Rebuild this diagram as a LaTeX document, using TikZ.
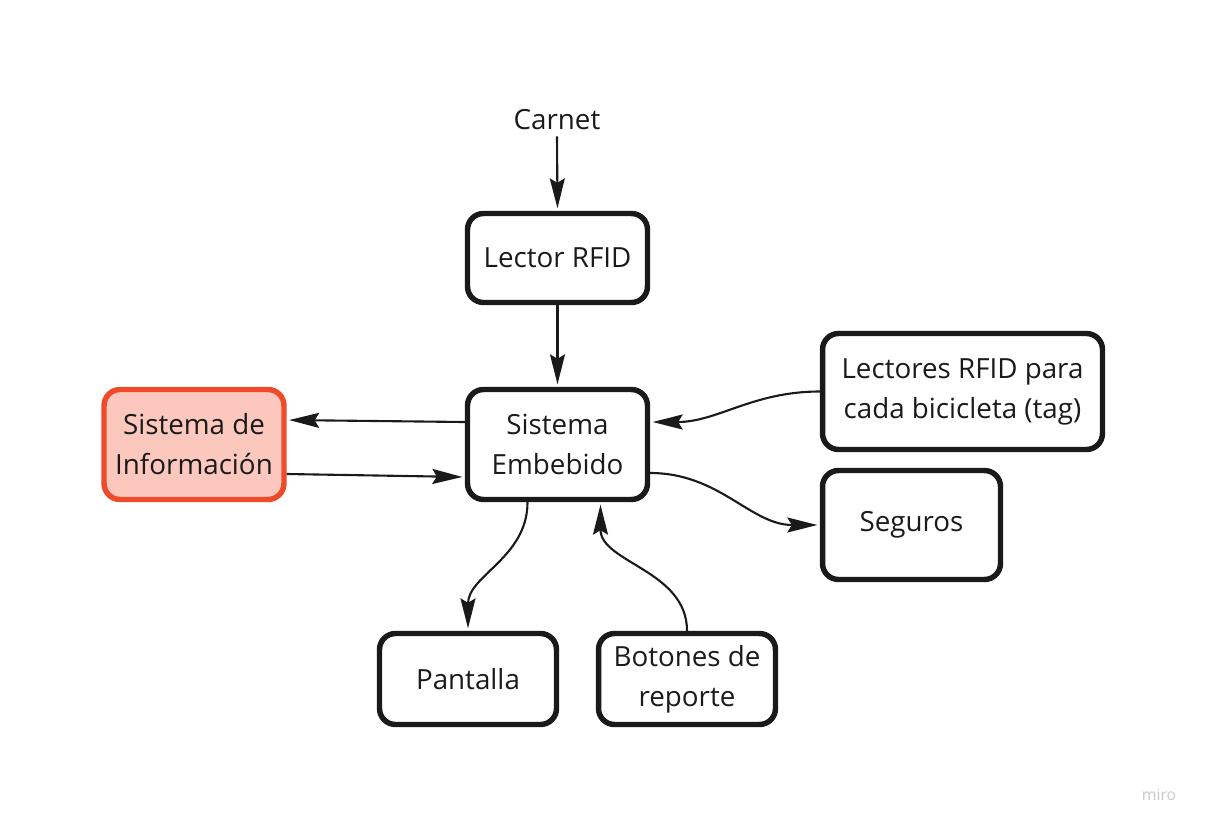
\documentclass[tikz,border=0pt]{standalone}
\usepackage{fontspec}
\setmainfont{Open Sans}
\usepackage{xcolor}
\usepackage{tikz}
\usetikzlibrary{arrows.meta}

\definecolor{boxline}{HTML}{1A1A1A}
\definecolor{infoline}{HTML}{EE4B2B}
\definecolor{infofill}{HTML}{FCC8BE}
\definecolor{logogray}{HTML}{C8C8CD}

\tikzset{
  block/.style={draw=boxline, line width=3.1pt, rounded corners=0.32cm,
    align=center, text=boxline, font=\fontsize{15.8}{22.7}\selectfont},
  infoblock/.style={block, draw=infoline, fill=infofill},
  link/.style={-{Stealth[length=6mm,width=3mm,inset=0.9mm]}, line width=1.2pt,
    boxline, shorten >=1.4pt}
}

\begin{document}
\begin{tikzpicture}[x=0.02cm,y=0.02cm]
\useasboundingbox (0,0) rectangle (1206,-829);

% Blocks
\node[font=\fontsize{15.8}{22.7}\selectfont, text=boxline] (carnet) at (557,-120) {Carnet};
\node[block, minimum width=3.6cm, minimum height=1.78cm] (lector) at (557.5,-258) {Lector RFID};
\node[block, minimum width=3.6cm, minimum height=2.2cm] (emb) at (557.5,-444.5) {Sistema\\Embebido};
\node[infoblock, minimum width=3.6cm, minimum height=2.2cm] (info) at (194,-444.5) {Sistema de\\Información};
\node[block, minimum width=5.6cm, minimum height=2.32cm] (tags) at (962.5,-391.5) {Lectores RFID para\\cada bicicleta (tag)};
\node[block, minimum width=3.56cm, minimum height=2.18cm] (seguros) at (911.5,-525) {Seguros};
\node[block, minimum width=3.54cm, minimum height=1.82cm] (pantalla) at (468,-679) {Pantalla};
\node[block, minimum width=3.54cm, minimum height=1.82cm] (botones) at (687,-679) {Botones de\\reporte};

% Connectors
\draw[link] (carnet.south) -- (lector.north);
\draw[link] (lector.south) -- (emb.north);
\draw[link] ([yshift=0.45cm]emb.west) -- ([yshift=0.49cm]info.east);
\draw[link] ([yshift=-0.59cm]info.east) -- ([yshift=-0.65cm]emb.west);
\draw[link] (tags.west) to[out=180,in=0] ([yshift=0.45cm]emb.east);
\draw[link] ([yshift=-0.57cm]emb.east) to[out=0,in=180] (seguros.west);
\draw[link] ([xshift=-0.6cm]emb.south) to[out=-90,in=90] (pantalla.north);
\draw[link] (botones.north) to[out=90,in=-90] ([xshift=0.86cm]emb.south);

% Logo
\node[text=logogray, font=\fontsize{9}{11}\selectfont] (logo) at (1159,-795) {miro};
\end{tikzpicture}
\end{document}
